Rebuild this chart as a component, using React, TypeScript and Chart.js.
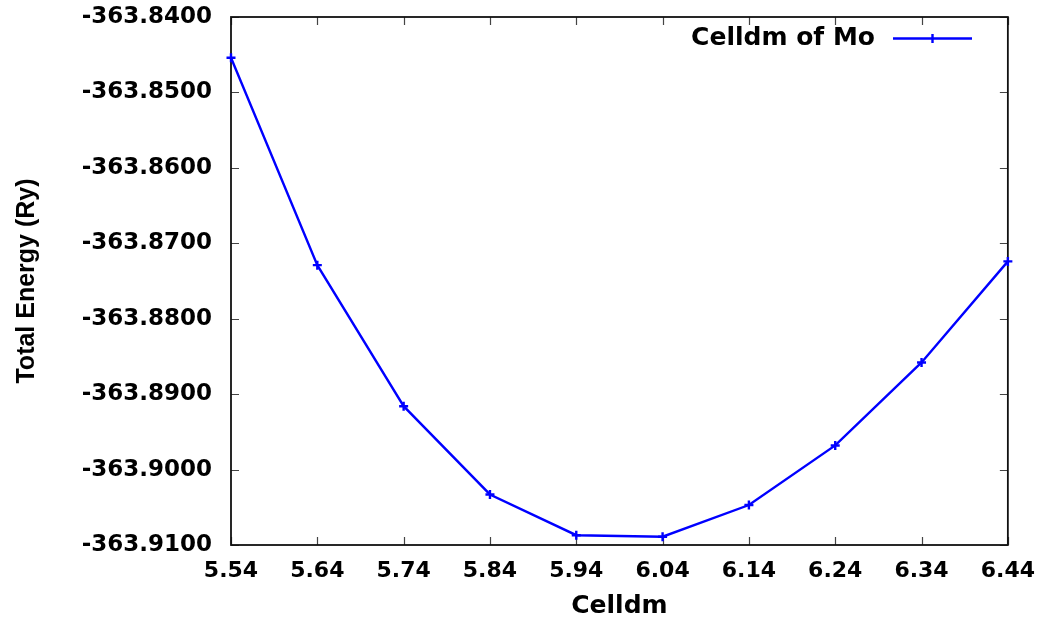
import { useEffect, useRef } from "react";
import { Chart, registerables } from "chart.js";

Chart.register(...registerables);

const seriesLabel = "Celldm of Mo";
const celldm = [5.54, 5.64, 5.74, 5.84, 5.94, 6.04, 6.14, 6.24, 6.34, 6.44];
const totalEnergy = [
  -363.8454, -363.8729, -363.8916, -363.9033, -363.9087, -363.9089, -363.9047,
  -363.8968, -363.8858, -363.8724,
];
const xTicks = [5.54, 5.64, 5.74, 5.84, 5.94, 6.04, 6.14, 6.24, 6.34, 6.44];
const yTicks = [
  -363.84, -363.85, -363.86, -363.87, -363.88, -363.89, -363.9, -363.91,
];
const xTitle = "Celldm";
const yTitle = "Total Energy (Ry)";

const BLUE = "#0000ff";
const H_FONT = "'DejaVu Sans', sans-serif";

const framePlugin = {
  id: "gnuFrame",
  beforeDatasetsDraw(chart: any) {
    const { ctx, chartArea } = chart;
    const { left, right, top, bottom } = chartArea;
    const xs = chart.scales.x;
    const ys = chart.scales.y;
    const tl = 8;
    ctx.save();
    ctx.strokeStyle = "#444";
    ctx.lineWidth = 1.2;
    ctx.beginPath();
    xTicks.forEach((v) => {
      const px = Math.round(xs.getPixelForValue(v)) + 0.5;
      ctx.moveTo(px, bottom);
      ctx.lineTo(px, bottom - tl);
      ctx.moveTo(px, top);
      ctx.lineTo(px, top + tl);
    });
    yTicks.forEach((v) => {
      const py = Math.round(ys.getPixelForValue(v)) + 0.5;
      ctx.moveTo(left, py);
      ctx.lineTo(left + tl, py);
      ctx.moveTo(right, py);
      ctx.lineTo(right - tl, py);
    });
    ctx.stroke();
    ctx.strokeStyle = "#111";
    ctx.lineWidth = 1.8;
    ctx.strokeRect(left, top, right - left, bottom - top);
    ctx.restore();
  },
  afterDraw(chart: any) {
    const { ctx } = chart;
    const ds = chart.data.datasets[0];
    const ty = 38.5;
    ctx.save();
    ctx.font = `bold 25px ${H_FONT}`;
    ctx.fillStyle = "#000";
    ctx.textAlign = "right";
    ctx.textBaseline = "middle";
    ctx.fillText(ds.label, 875, ty);
    ctx.strokeStyle = BLUE;
    ctx.lineWidth = 2.4;
    ctx.beginPath();
    ctx.moveTo(893, ty);
    ctx.lineTo(972, ty);
    ctx.moveTo(932.5, ty - 4.5);
    ctx.lineTo(932.5, ty + 4.5);
    ctx.moveTo(928, ty);
    ctx.lineTo(937, ty);
    ctx.stroke();
    ctx.restore();
  },
};

export default function App() {
  const ref = useRef<HTMLCanvasElement | null>(null);

  useEffect(() => {
    if (!ref.current) return;
    const chart = new Chart(ref.current, {
      type: "line",
      data: {
        datasets: [
          {
            label: seriesLabel,
            data: celldm.map((x, i) => ({ x, y: totalEnergy[i] })),
            borderColor: BLUE,
            backgroundColor: BLUE,
            borderWidth: 2.4,
            pointStyle: "cross",
            pointRadius: 4.5,
            pointBorderWidth: 2.4,
            pointBorderColor: BLUE,
            tension: 0,
            clip: false,
          } as any,
        ],
      },
      options: {
        animation: false,
        responsive: false,
        devicePixelRatio: 1,
        layout: { padding: { left: 0, right: 39, top: 17, bottom: 0 } },
        plugins: {
          legend: { display: false },
          tooltip: { enabled: false },
        },
        scales: {
          x: {
            type: "linear",
            position: "bottom",
            min: 5.54,
            max: 6.44,
            grid: { display: false, drawTicks: false },
            border: { display: false },
            ticks: {
              color: "#000",
              font: { family: H_FONT, size: 22, weight: "bold" },
              padding: 13,
              maxRotation: 0,
              autoSkip: false,
              callback: (v: any) => Number(v).toFixed(2),
            },
            afterBuildTicks: (s: any) => {
              s.ticks = xTicks.map((value) => ({ value }));
            },
            afterFit: (s: any) => {
              s.height = 77;
            },
            title: {
              display: true,
              text: xTitle,
              color: "#000",
              font: { family: H_FONT, size: 25, weight: "bold" },
              padding: { top: 0, bottom: 1 },
            },
          },
          y: {
            type: "linear",
            position: "left",
            min: -363.91,
            max: -363.84,
            grid: { display: false, drawTicks: false },
            border: { display: false },
            ticks: {
              color: "#000",
              font: { family: H_FONT, size: 23, weight: "bold" },
              padding: 19,
              autoSkip: false,
              callback: (v: any) => Number(v).toFixed(4),
            },
            afterBuildTicks: (s: any) => {
              s.ticks = yTicks.map((value) => ({ value }));
            },
            afterFit: (s: any) => {
              s.width = 231;
              s.paddingTop = 0;
              s.paddingBottom = 0;
            },
            title: {
              display: true,
              text: yTitle,
              color: "#000",
              font: { family: "'Liberation Sans', Arial, sans-serif", size: 25, weight: "bold" },
              padding: { top: 12, bottom: 0 },
            },
          },
        },
      },
      plugins: [framePlugin],
    });
    return () => chart.destroy();
  }, []);

  return (
    <div style={{ position: "absolute", left: 0, top: 0, width: 1048, height: 622, background: "#fff" }}>
      <canvas ref={ref} width={1048} height={622} style={{ display: "block" }} />
    </div>
  );
}
